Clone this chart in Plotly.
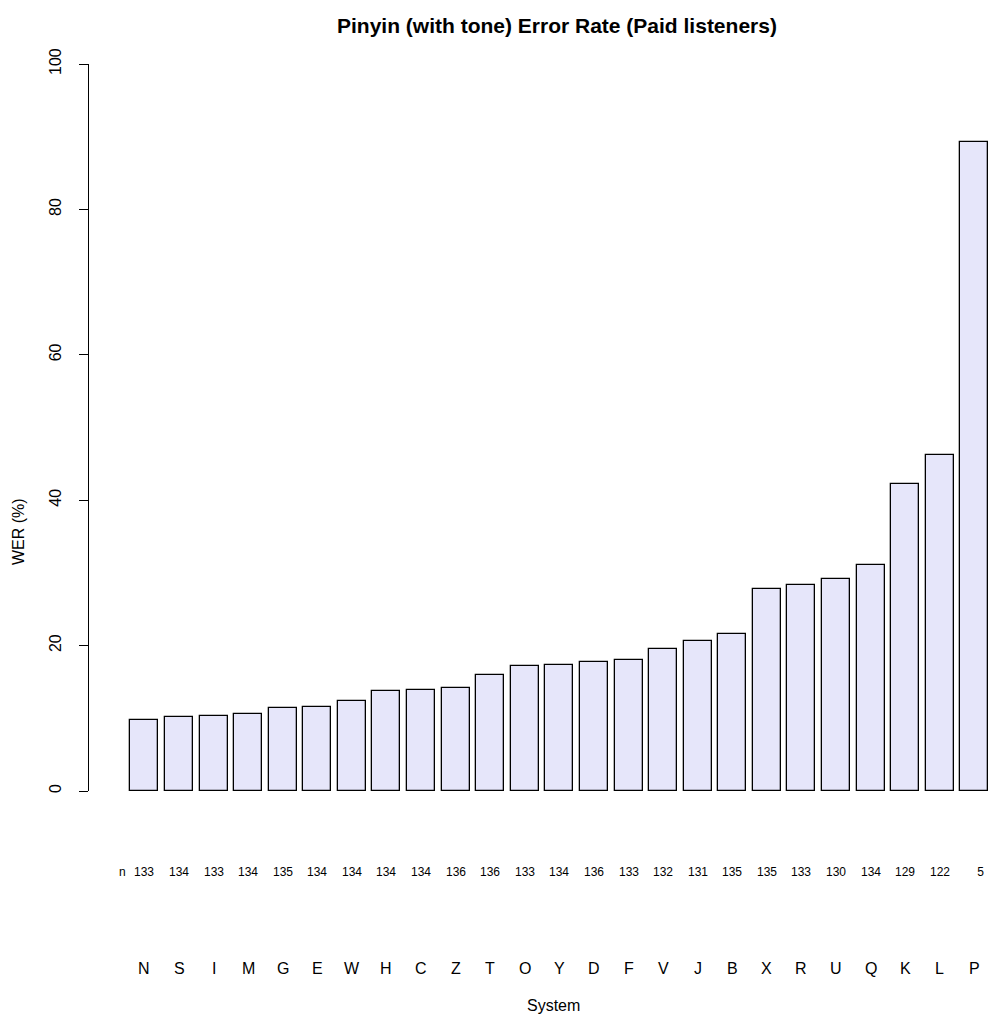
import plotly.graph_objects as go

systems = ["N", "S", "I", "M", "G", "E", "W", "H", "C", "Z", "T", "O", "Y",
           "D", "F", "V", "J", "B", "X", "R", "U", "Q", "K", "L", "P"]
wer = [9.8, 10.2, 10.3, 10.6, 11.4, 11.5, 12.4, 13.8, 13.9, 14.1, 16.0, 17.2, 17.3,
       17.7, 18.05, 19.5, 20.6, 21.6, 27.8, 28.4, 29.1, 31.1, 42.2, 46.2, 89.3]
n_counts = [133, 134, 133, 134, 135, 134, 134, 134, 134, 136, 136, 133, 134,
            136, 133, 132, 131, 135, 135, 133, 130, 134, 129, 122, 5]
y_ticks = [0, 20, 40, 60, 80, 100]

FONT = "Liberation Sans, Arial, Helvetica, sans-serif"
W, H = 990, 1019
ML, MR, MT, MB = 89, 0, 64, 228

fig = go.Figure()
fig.add_trace(go.Bar(
    x=systems, y=wer, width=0.81,
    marker=dict(color="#E6E6FA", line=dict(color="black", width=1.3)),
    hoverinfo="x+y", showlegend=False,
))

# n labels and system letters under the bars
for s, n in zip(systems, n_counts):
    txt = str(n).rjust(3, "\u2007")
    fig.add_annotation(x=s, xref="x", y=-0.1114, yref="paper", text=txt,
                       showarrow=False, xanchor="center", yanchor="middle",
                       font=dict(family=FONT, size=12, color="black"))
    fig.add_annotation(x=s, xref="x", y=-0.2435, yref="paper", text=s,
                       showarrow=False, xanchor="center", yanchor="middle",
                       font=dict(family=FONT, size=16, color="black"))

fig.add_annotation(x=-0.62, xref="x", y=-0.1114, yref="paper", text="n",
                   showarrow=False, xanchor="center", yanchor="middle",
                   font=dict(family=FONT, size=12, color="black"))

plot_w = W - ML - MR
plot_h = H - MT - MB
def px_x(p):
    return (p - ML) / plot_w
def px_y(p):
    return (H - MB - p) / plot_h

fig.add_annotation(x=px_x(553), xref="paper", y=px_y(1005), yref="paper", text="System",
                   showarrow=False, xanchor="center", yanchor="middle",
                   font=dict(family=FONT, size=16, color="black"))
fig.add_annotation(x=px_x(18), xref="paper", y=px_y(532), yref="paper", text="WER (%)",
                   showarrow=False, xanchor="center", yanchor="middle", textangle=-90,
                   font=dict(family=FONT, size=16, color="black"))
fig.add_annotation(x=px_x(557), xref="paper", y=px_y(26), yref="paper",
                   text="<b>Pinyin (with tone) Error Rate (Paid listeners)</b>",
                   showarrow=False, xanchor="center", yanchor="middle",
                   font=dict(family=FONT, size=21, color="black"))

fig.update_layout(
    width=W, height=H,
    margin=dict(l=ML, r=MR, t=MT, b=MB, pad=0),
    paper_bgcolor="white", plot_bgcolor="white",
    bargap=0,
    xaxis=dict(range=[-1.6026, 24.452], showticklabels=False, ticks="",
               showline=False, showgrid=False, zeroline=False, fixedrange=True),
    yaxis=dict(range=[0, 100], tickvals=y_ticks, ticktext=[str(v) for v in y_ticks],
               tickangle=-90, ticks="outside", ticklen=9, tickwidth=1.3,
               tickcolor="black", showline=True, linecolor="black", linewidth=1.3,
               showgrid=False, zeroline=False, ticklabelstandoff=11,
               tickfont=dict(family=FONT, size=16, color="black")),
    font=dict(family=FONT, color="black"),
)

fig.write_html(
    "out.html",
    config={"displayModeBar": False},
    post_script="document.body.style.margin='0';document.body.style.overflow='hidden';"
                "document.documentElement.style.overflow='hidden';",
)
